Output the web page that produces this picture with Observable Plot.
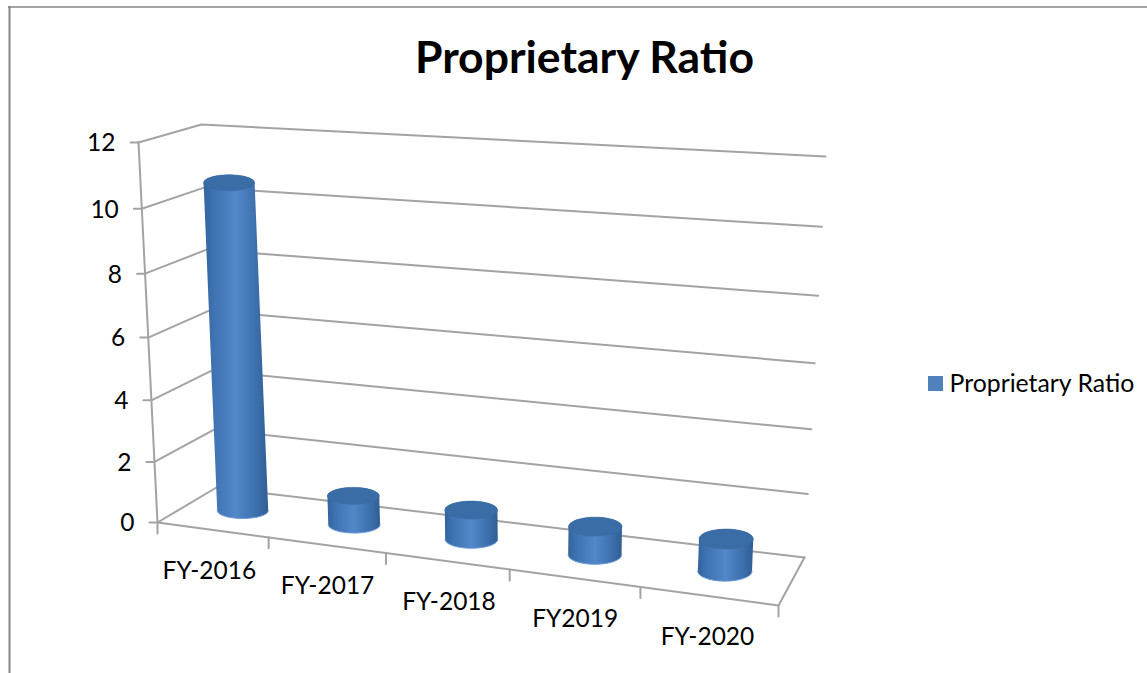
<!DOCTYPE html>
<html>
<head>
<meta charset="utf-8">
<script src="https://cdn.jsdelivr.net/npm/d3@7"></script>
<script src="https://cdn.jsdelivr.net/npm/@observablehq/plot@0.6"></script>
<style>html,body{margin:0;padding:0;background:#fff}svg{display:block}</style>
</head>
<body>
<div id="chart"></div>
<script>
const titleText = "Proprietary Ratio";
const categories = ["FY-2016", "FY-2017", "FY-2018", "FY2019", "FY-2020"];
const ratioValues = [10.5, 0.9, 0.9, 0.85, 0.95];
const valueTicks = [0, 2, 4, 6, 8, 10, 12];

const width = 1147, height = 673, maxValue = 12;
const font = "Lato, Carlito, 'Open Sans', sans-serif";

// Perspective of the box: the corners of its faces on the page
const floorQuad = [[157,522],[778,605],[804,557],[216,487]];
const ceilQuad  = [[138,142],[799,185],[825,156],[201,124]];
const backQuad  = [[216,487],[804,557],[825,156],[201,124]];
const sideQuad  = [[157,522],[216,487],[201,124],[138,142]];

function homography([p0,p1,p2,p3]) {
  const [x0,y0]=p0,[x1,y1]=p1,[x2,y2]=p2,[x3,y3]=p3;
  const dx1=x1-x2,dx2=x3-x2,sx=x0-x1+x2-x3,dy1=y1-y2,dy2=y3-y2,sy=y0-y1+y2-y3;
  const den=dx1*dy2-dx2*dy1,g=(sx*dy2-dx2*sy)/den,h=(dx1*sy-sx*dy1)/den;
  const a=x1-x0+g*x1,b=x3-x0+h*x3,d=y1-y0+g*y1,e=y3-y0+h*y3;
  return (u,v)=>{const w=g*u+h*v+1;return [(a*u+b*v+x0)/w,(d*u+e*v+y0)/w];};
}
const floorH=homography(floorQuad), ceilH=homography(ceilQuad), onBack=homography(backQuad), onSide=homography(sideQuad);
const n=categories.length;
// the categories spread a little more evenly than the corners alone imply
const ease=(u,k)=>u+k*u*(1-u);
const onFloor=(u,d)=>floorH(ease(u,.06),d);
const onCeil=(u,d)=>ceilH(ease(u,.18),d);
// category position, depth and value to a place on the page
function project(cat,depth,value){
  const a=onFloor(cat/n,depth), b=onCeil(cat/n,depth), t=value/maxValue;
  return [a[0]+(b[0]-a[0])*t, a[1]+(b[1]-a[1])*t];
}

// Gridlines: side wall then back wall
const gridRows = valueTicks.flatMap(v=>{
  const t=v/maxValue;
  return [onSide(0,t),onSide(1,t),onBack(1,t)].map(([x,y])=>({x,y,tick:v}));
});
const s0=onSide(0,0), s1=onSide(0,1);
const frameRows = [
  ...[s1,s0,onFloor(1,0),onFloor(1,1)].map(([x,y])=>({x,y,k:"a"})),
  ...valueTicks.flatMap(v=>{const [x,y]=onSide(0,v/maxValue);return [{x:x-8,y,k:"t"+v},{x,y,k:"t"+v}];}),
  ...d3.range(0,n+1).flatMap(i=>{const [x,y]=onFloor(i/n,0);return [{x,y,k:"c"+i},{x,y:y+11,k:"c"+i}];})
];
const valueLabels = valueTicks.map(v=>{const [x,y]=onSide(0,v/maxValue);return {x:x-23,y:y+1,text:String(v)};});
const labelNudge = [-3, 1, 2, 1, -1];
const catLabels = categories.map((c,i)=>{const [x,y]=onFloor((i+.5)/n,0);return {x:x+labelNudge[i],y:y+41,text:c};});

// Cylinders: the body outline runs round the top's far half, then the base's near half
const angles = d3.range(0,361,6).map(d=>d*Math.PI/180);
const halfAngles = angles.filter(a=>a<=Math.PI);
const bodyRows=[], tops=[], rims=[];
ratioValues.forEach((v,i)=>{
  const [bx,by]=project(i+.5,.52,0), [tx,ty]=project(i+.5,.52,v);
  const rx=25.5+i*.4, ry=8+i*.5;
  halfAngles.forEach(a=>bodyRows.push({x:tx-rx*Math.cos(a),y:ty-ry*Math.sin(a),id:i}));
  halfAngles.forEach(a=>{
    const r={x:bx+rx*Math.cos(a),y:by+ry*Math.sin(a),id:i};
    bodyRows.push(r); rims.push(r);
  });
  angles.forEach(a=>tops.push({x:tx+rx*Math.cos(a),y:ty+ry*Math.sin(a),id:i}));
});

function gradient(){
  const defs=d3.create("svg:defs");
  const g=defs.append("linearGradient").attr("id","cyl").attr("x1",0).attr("x2",1).attr("y1",0).attr("y2",0);
  [[0,"#33649e"],[.15,"#3f72b1"],[.5,"#5287c9"],[.85,"#3a6ca8"],[1,"#2f5e94"]].forEach(([o,c])=>g.append("stop").attr("offset",o).attr("stop-color",c));
  return defs.node();
}

const chart = Plot.plot({
  width, height, margin:0,
  x:{type:"identity",axis:null}, y:{type:"identity",axis:null},
  style:{background:"#fff"},
  marks:[
    gradient,
    Plot.ruleX([9],{y1:6,y2:height,stroke:"#858585",strokeWidth:2}),
    Plot.ruleY([6.5],{x1:8,x2:width,stroke:"#858585",strokeWidth:1.5}),
    Plot.line(gridRows,{x:"x",y:"y",z:"tick",stroke:"#a3a3a3",strokeWidth:2,curve:"linear"}),
    Plot.line(frameRows,{x:"x",y:"y",z:"k",stroke:"#a3a3a3",strokeWidth:2,curve:"linear"}),
    Plot.line(bodyRows,{x:"x",y:"y",z:"id",fill:"url(#cyl)",stroke:"none",curve:"linear"}),
    Plot.line(rims,{x:"x",y:"y",z:"id",stroke:"#6a9ad6",strokeWidth:1,curve:"linear"}),
    Plot.line(tops,{x:"x",y:"y",z:"id",fill:"#3a6ca6",stroke:"#3a6ca6",strokeWidth:.5,curve:"linear"}),
    Plot.text(valueLabels,{x:"x",y:"y",text:"text",textAnchor:"end",fontFamily:font,fontSize:24.5,fill:"#000"}),
    Plot.text(catLabels,{x:"x",y:"y",text:"text",fontFamily:font,fontSize:24.5,fill:"#000"}),
    Plot.text([titleText],{x:584,y:58,text:d=>d,fontFamily:font,fontSize:44.5,fontWeight:700,fill:"#000"}),
    Plot.rect([titleText],{x1:928,x2:943,y1:376,y2:391,fill:"#4f81bd"}),
    Plot.text([titleText],{x:949,y:384,text:d=>d,textAnchor:"start",fontFamily:font,fontSize:24.8,fill:"#000"})
  ]
});
document.getElementById("chart").append(chart);
</script>
</body>
</html>
